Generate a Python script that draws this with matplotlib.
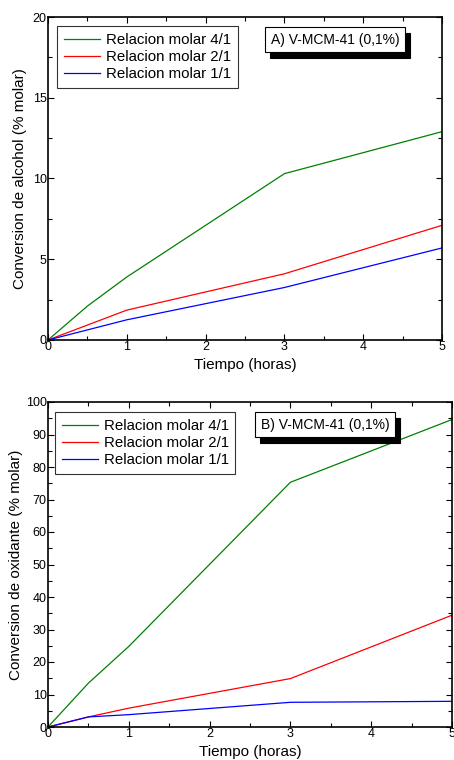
import matplotlib
matplotlib.use("Agg")
import matplotlib.pyplot as plt
from matplotlib.ticker import MultipleLocator
import matplotlib.transforms as mtransforms

plt.rcParams['font.family'] = ['Liberation Sans', 'DejaVu Sans']

tiempo_a = [0, 0.5, 1, 3, 5]
alcohol_41 = [0, 2.1, 3.9, 10.3, 12.9]
tiempo_a2 = [0, 1, 3, 5]
alcohol_21 = [0, 1.85, 4.1, 7.1]
alcohol_11 = [0, 1.25, 3.25, 5.7]

tiempo_b = [0, 0.5, 1, 3, 5]
oxid_41 = [0, 13.5, 24.8, 75.3, 94.6]
oxid_21 = [0, 3.1, 5.8, 14.9, 34.4]
oxid_11 = [0, 3.1, 3.8, 7.6, 7.9]

etiquetas = ["Relacion molar 4/1", "Relacion molar 2/1", "Relacion molar 1/1"]
colores = ["#008000", "#ff0000", "#0000ff"]


def style_axes(ax, ymax, ymajor, yminor):
    ax.set_xlim(0, 5)
    ax.set_ylim(0, ymax)
    ax.xaxis.set_major_locator(MultipleLocator(1))
    ax.xaxis.set_minor_locator(MultipleLocator(0.5))
    ax.yaxis.set_major_locator(MultipleLocator(ymajor))
    ax.yaxis.set_minor_locator(MultipleLocator(yminor))
    ax.tick_params(which='both', direction='in', top=True, right=True,
                   labelsize=9, pad=1, width=0.8)
    ax.tick_params(which='major', length=4)
    ax.tick_params(which='minor', length=3)
    for s in ax.spines.values():
        s.set_linewidth(1.2)
    ax.set_xlabel("Tiempo (horas)", fontsize=11, labelpad=3)


def add_legend(ax, anchor):
    leg = ax.legend(loc='upper left', bbox_to_anchor=anchor, fontsize=10.8,
                    frameon=True, fancybox=False, handlelength=2.4, handletextpad=0.4,
                    borderpad=0.45, labelspacing=0.22, borderaxespad=0)
    leg.get_frame().set_edgecolor('black')
    leg.get_frame().set_linewidth(0.8)
    return leg


def shadow_label(ax, x, y, texto):
    # caja negra desplazada detras, como sombra
    sh = mtransforms.offset_copy(ax.transAxes, fig=ax.figure, x=3.5, y=-4, units='points')
    ax.text(x, y, texto, transform=sh, fontsize=10, color='black', ha='left', va='top',
            bbox=dict(boxstyle='square,pad=0.4', fc='black', ec='black', lw=0.8), zorder=5)
    ax.text(x, y, texto, transform=ax.transAxes, fontsize=10, ha='left', va='top',
            bbox=dict(boxstyle='square,pad=0.4', fc='white', ec='black', lw=0.8), zorder=6)


fig = plt.figure(figsize=(4.54, 7.60), dpi=100)

ax1 = fig.add_axes([48 / 454, 420 / 760, 394 / 454, 323 / 760])
ax1.plot(tiempo_a, alcohol_41, color=colores[0], lw=0.9, label=etiquetas[0])
ax1.plot(tiempo_a2, alcohol_21, color=colores[1], lw=0.9, label=etiquetas[1])
ax1.plot(tiempo_a2, alcohol_11, color=colores[2], lw=0.9, label=etiquetas[2])
style_axes(ax1, 20, 5, 2.5)
ax1.set_ylabel("Conversion de alcohol (% molar)", fontsize=11, labelpad=4)
add_legend(ax1, (0.023, 0.972))
shadow_label(ax1, 0.565, 0.952, "A) V-MCM-41 (0,1%)")

ax2 = fig.add_axes([48 / 454, 33 / 760, 404 / 454, 325 / 760])
ax2.plot(tiempo_b, oxid_41, color=colores[0], lw=0.9, label=etiquetas[0])
ax2.plot(tiempo_b, oxid_21, color=colores[1], lw=0.9, label=etiquetas[1])
ax2.plot(tiempo_b, oxid_11, color=colores[2], lw=0.9, label=etiquetas[2])
style_axes(ax2, 100, 10, 5)
ax2.set_ylabel("Conversion de oxidante (% molar)", fontsize=11, labelpad=2)
add_legend(ax2, (0.017, 0.969))
shadow_label(ax2, 0.526, 0.952, "B) V-MCM-41 (0,1%)")

fig.savefig("out.png", dpi=100)
